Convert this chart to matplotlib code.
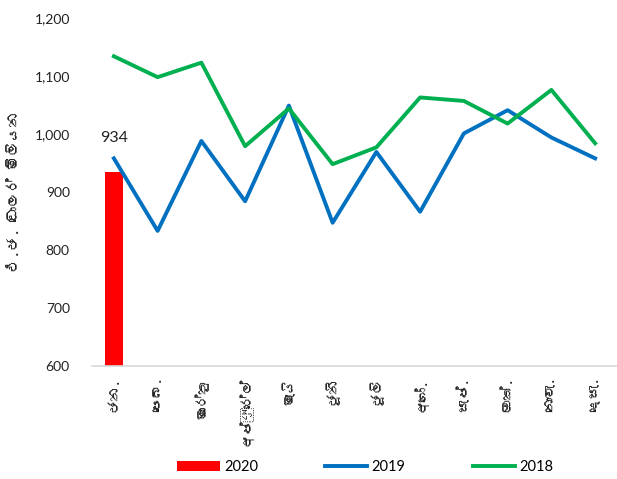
"""Monthly values (US$ million): 2020 bar vs 2019 / 2018 lines."""

import matplotlib
matplotlib.use("Agg")
import matplotlib.pyplot as plt
from matplotlib import font_manager
from matplotlib.ft2font import FT2Font
import numpy as np

# ------------------------------------------------------------------- data
MONTHS = ["ජන.", "පෙබ.", "මාර්තු", "අප්‍රේල්", "මැයි", "ජූනි",
          "ජූලි", "අගෝ.", "සැප්.", "ඔක්.", "නොවැ.", "දෙසැ."]
V2020 = [934]
V2019 = [958, 833, 988, 884, 1049, 847, 969, 866, 1001, 1041, 994, 958]
V2018 = [1134, 1098, 1123, 979, 1044, 948, 977, 1063, 1057, 1018, 1076, 984]
YTICKS = [600, 700, 800, 900, 1000, 1100, 1200]
YLABEL = "එ.ජ. ඩොලර් මිලියන"

RED = "#FF0000"
BLUE = "#0070C0"
GREEN = "#00B050"
AXIS = "#D9D9D9"
INK = "#222222"


def find_sinhala_font():
    """First installed font file that carries Sinhala glyphs, if any."""
    for f in font_manager.fontManager.ttflist:
        try:
            cmap = FT2Font(f.fname).get_charmap()
        except Exception:
            continue
        if 0x0DA2 in cmap:
            return f.name
    return None


sin = find_sinhala_font()
base = ["Lato", "DejaVu Sans"]
families = ([sin] + base) if sin else base
plt.rcParams["font.family"] = base

fig = plt.figure(figsize=(6.17, 4.79), dpi=100)
ax = fig.add_axes([92 / 617, 1 - 366 / 479, 525 / 617, 348 / 479])

x = np.arange(len(MONTHS))
bar = ax.bar(x[:len(V2020)], V2020, width=0.41, color=RED, label="2020",
             zorder=2)
l19, = ax.plot(x, V2019, color=BLUE, lw=2.8, label="2019", zorder=3)
l18, = ax.plot(x, V2018, color=GREEN, lw=2.8, label="2018", zorder=3)

ax.annotate(f"{V2020[0]}", xy=(0, V2020[0]), xytext=(0, 20),
            textcoords="offset points", ha="center", va="bottom",
            fontsize=11.5, color=INK)

ax.set_xlim(-0.5, len(MONTHS) - 0.5)
ax.set_ylim(600, 1200)
ax.set_yticks(YTICKS)
ax.set_yticklabels([f"{v:,}" for v in YTICKS], fontsize=10, color=INK)
ax.set_xticks(x)
ax.set_xticklabels(MONTHS, rotation=90, fontsize=10, color=INK,
                   family=families, ha="center", va="top")
ax.tick_params(axis="x", length=0, pad=8)
ax.tick_params(axis="y", length=0, pad=16)

for s in ("top", "right", "left"):
    ax.spines[s].set_visible(False)
ax.spines["bottom"].set_color(AXIS)
ax.spines["bottom"].set_linewidth(1.2)

ax.set_ylabel(YLABEL, fontsize=10.5, color=INK, family=families,
              labelpad=10)

fig.legend([bar, l19, l18], ["2020", "2019", "2018"],
           loc="center", bbox_to_anchor=(0.592, 1 - 467 / 479), ncol=3,
           frameon=False, fontsize=10.5, handlelength=2.9, handleheight=0.7,
           handletextpad=0.3, columnspacing=4.6)

fig.savefig("out.png", dpi=100)
